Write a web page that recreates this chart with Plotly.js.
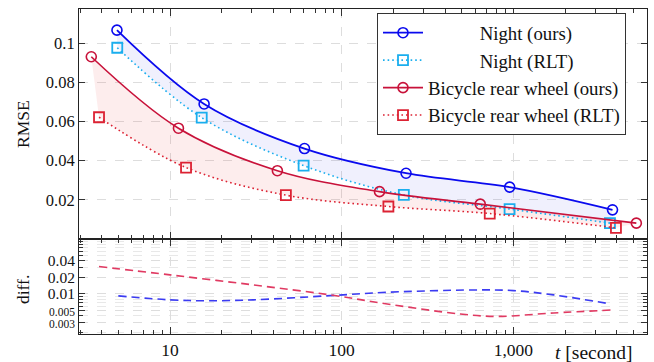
<!DOCTYPE html>
<html>
<head>
<meta charset="utf-8">
<script src="https://cdn.plot.ly/plotly-3.0.1.min.js"></script>
<style>html,body{margin:0;padding:0;background:#fff;}#chart{width:654px;height:362px;}</style>
</head>
<body>
<div id="chart"></div>
<script>
// ---- data ----
const nightOursT = [4.91, 15.8, 60.7, 237, 951, 3777];
const nightOurs  = [0.1067, 0.069, 0.0462, 0.0336, 0.0265, 0.0149];
const nightRltT  = [4.93, 15.3, 60, 230, 950, 3650];
const nightRlt   = [0.0977, 0.062, 0.0375, 0.0225, 0.0153, 0.0081];
const bikeOursT  = [3.48, 11.2, 42.2, 166, 641, 5200];
const bikeOurs   = [0.0931, 0.0566, 0.0349, 0.0242, 0.0178, 0.0081];
const bikeRltT   = [3.86, 12.4, 47.3, 187, 728, 3955];
const bikeRlt    = [0.0622, 0.0365, 0.0224, 0.0166, 0.0130, 0.0057];

const diffNightT = [5, 10, 16.3, 30.5, 85.7, 183, 583, 1000, 1711, 3650];
const diffNight  = [0.0092, 0.0078, 0.0075, 0.0078, 0.0093, 0.0107, 0.0118, 0.0115, 0.0096, 0.0066];
const diffBikeT  = [3.86, 10, 30.5, 85.7, 200, 491, 807, 1711, 3777];
const diffBike   = [0.0315, 0.0222, 0.0146, 0.0096, 0.0063, 0.0043, 0.0039, 0.0045, 0.0051];

const names = ['Night (ours)', 'Night (RLT)', 'Bicycle rear wheel (ours)', 'Bicycle rear wheel (RLT)'];
const xTickVals = [10, 100, 1000];
const xTickText = ['10', '100', '1,000'];
const yTickVals = [0.02, 0.04, 0.06, 0.08, 0.1];
const yTickText = ['0.02', '0.04', '0.06', '0.08', '0.1'];
const dTickVals = [0.003, 0.005, 0.01, 0.02, 0.04];
const dTickText = ['0.003', '0.005', '0.01', '0.02', '0.04'];

// ---- styles ----
const BLUE = '#0a0aee', CYAN = '#1aaeee', RED = '#c8123a', RED2 = '#dc2233';
const FONT = 'Liberation Serif, Times New Roman, serif';
const pad = '\u00a0'.repeat(11);

const xMinor = [];
for (let e = 0; e <= 3; e++) for (let d = 2; d <= 9; d++) xMinor.push(d * Math.pow(10, e));
const dMinor = [];
for (let e = -3; e <= -2; e++) for (let d = 2; d <= 9; d++) dMinor.push(d * Math.pow(10, e));

const common = {hoverinfo: 'skip'};
const traces = [
  // fills between curves
  Object.assign({x: nightRltT, y: nightRlt, xaxis: 'x2', yaxis: 'y', mode: 'lines', line: {width: 0, shape: 'spline'}, showlegend: false}, common),
  Object.assign({x: nightOursT, y: nightOurs, xaxis: 'x2', yaxis: 'y', mode: 'lines', line: {width: 0, shape: 'spline'}, fill: 'tonexty', fillcolor: 'rgba(40,40,230,0.07)', showlegend: false}, common),
  Object.assign({x: bikeRltT, y: bikeRlt, xaxis: 'x2', yaxis: 'y', mode: 'lines', line: {width: 0, shape: 'spline'}, showlegend: false}, common),
  Object.assign({x: bikeOursT, y: bikeOurs, xaxis: 'x2', yaxis: 'y', mode: 'lines', line: {width: 0, shape: 'spline'}, fill: 'tonexty', fillcolor: 'rgba(235,60,60,0.09)', showlegend: false}, common),
  // lines
  Object.assign({name: pad + names[0], legendgroup: 'a', x: nightOursT, y: nightOurs, xaxis: 'x2', yaxis: 'y', mode: 'lines+markers',
    line: {color: BLUE, width: 1.8, shape: 'spline'}, marker: {symbol: 'circle', size: 10, color: 'rgba(255,255,255,0)', line: {color: BLUE, width: 1.6}}}, common),
  Object.assign({name: pad + names[1], legendgroup: 'b', x: nightRltT, y: nightRlt, xaxis: 'x2', yaxis: 'y', mode: 'lines+markers',
    line: {color: CYAN, width: 1.6, shape: 'spline', dash: '1.6px,3px'}, marker: {symbol: 'square-open', size: 10, color: CYAN, line: {color: CYAN, width: 1.8}}}, common),
  Object.assign({name: names[2], legendgroup: 'c', x: bikeOursT, y: bikeOurs, xaxis: 'x2', yaxis: 'y', mode: 'lines+markers',
    line: {color: RED, width: 1.6, shape: 'spline'}, marker: {symbol: 'circle', size: 10, color: 'rgba(255,255,255,0)', line: {color: RED, width: 1.6}}}, common),
  Object.assign({name: names[3], legendgroup: 'd', x: bikeRltT, y: bikeRlt, xaxis: 'x2', yaxis: 'y', mode: 'lines+markers',
    line: {color: RED2, width: 1.6, shape: 'spline', dash: '1.6px,3px'}, marker: {symbol: 'square-open', size: 10, color: RED2, line: {color: RED2, width: 1.8}}}, common),
  // diff
  Object.assign({x: diffNightT, y: diffNight, xaxis: 'x', yaxis: 'y2', mode: 'lines', showlegend: false,
    line: {color: '#3b3bf2', width: 1.6, shape: 'spline', dash: '8px,5px'}}, common),
  Object.assign({x: diffBikeT, y: diffBike, xaxis: 'x', yaxis: 'y2', mode: 'lines', showlegend: false,
    line: {color: '#e03a62', width: 1.6, shape: 'spline', dash: '8px,5px'}}, common)
];

const L = 79, R = 647, T = 9, B = 334, MID = 239;
const H = B - T, W = R - L;
const split = (B - MID) / H;
const xr = [0.470, 3.778];

const axisBase = {
  showline: true, linecolor: '#222', linewidth: 1, mirror: 'allticks',
  ticks: 'inside', ticklen: 6, tickcolor: '#333', tickwidth: 1,
  showgrid: true, gridcolor: '#dddddd', griddash: 'dash', gridwidth: 1,
  zeroline: false, fixedrange: true
};

const layout = {
  width: 654, height: 362,
  margin: {l: L, r: 654 - R, t: T, b: 362 - B},
  paper_bgcolor: '#fff', plot_bgcolor: '#fff',
  font: {family: FONT, size: 16, color: '#111'},
  showlegend: true,
  legend: {x: (377 - L) / W, y: 1 - (13 - T) / H, xanchor: 'left', yanchor: 'top',
    bgcolor: '#fff', bordercolor: '#333', borderwidth: 1, font: {family: FONT, size: 18.8, color: '#111'},
    traceorder: 'grouped', tracegroupgap: 0, itemwidth: 40},
  xaxis: Object.assign({}, axisBase, {type: 'log', range: xr, domain: [0, 1], anchor: 'y2',
    tickmode: 'array', tickvals: xTickVals, ticktext: xTickText, ticklen: 7,
    tickfont: {family: FONT, size: 17.5},
    minor: {tickmode: 'array', tickvals: xMinor, ticks: 'inside', ticklen: 4, tickcolor: '#333', showgrid: false}}),
  xaxis2: Object.assign({}, axisBase, {type: 'log', range: xr, domain: [0, 1], anchor: 'y', matches: 'x',
    tickmode: 'array', tickvals: xTickVals, ticktext: xTickText, showticklabels: false, ticklen: 7,
    minor: {tickmode: 'array', tickvals: xMinor, ticks: 'inside', ticklen: 4, tickcolor: '#333', showgrid: false}}),
  yaxis: Object.assign({}, axisBase, {range: [0, 0.1175], domain: [split, 1], anchor: 'x2',
    tickmode: 'array', tickvals: yTickVals, ticktext: yTickText, tickfont: {family: FONT, size: 16.5}}),
  yaxis2: Object.assign({}, axisBase, {type: 'log', range: [-2.73, -1.0], domain: [0, split], anchor: 'x',
    tickmode: 'array', tickvals: dTickVals,
    ticktext: dTickText.map(t => t.length > 4 ? '<span style="font-size:11.5px">' + t + '</span>' : t),
    tickfont: {family: FONT, size: 15.5},
    minor: {tickmode: 'array', tickvals: dMinor, ticks: 'inside', ticklen: 4, tickcolor: '#333',
      showgrid: true, gridcolor: '#e8e8e8', griddash: 'dash'}}),
  annotations: [
    {text: 'RMSE', xref: 'paper', yref: 'paper', x: (23 - L) / W, y: (B - 124) / H, textangle: -90,
      showarrow: false, xanchor: 'center', yanchor: 'middle', font: {family: FONT, size: 17.5}},
    {text: 'diff.', xref: 'paper', yref: 'paper', x: (23 - L) / W, y: (B - 290) / H, textangle: -90,
      showarrow: false, xanchor: 'center', yanchor: 'middle', font: {family: FONT, size: 17.5}},
    {text: '<i>t</i> [second]', xref: 'paper', yref: 'paper', x: (593 - L) / W, y: (B - 352) / H,
      showarrow: false, xanchor: 'center', yanchor: 'middle', font: {family: FONT, size: 19.5}}
  ]
};

Plotly.newPlot('chart', traces, layout, {displayModeBar: false, staticPlot: true});
</script>
</body>
</html>
